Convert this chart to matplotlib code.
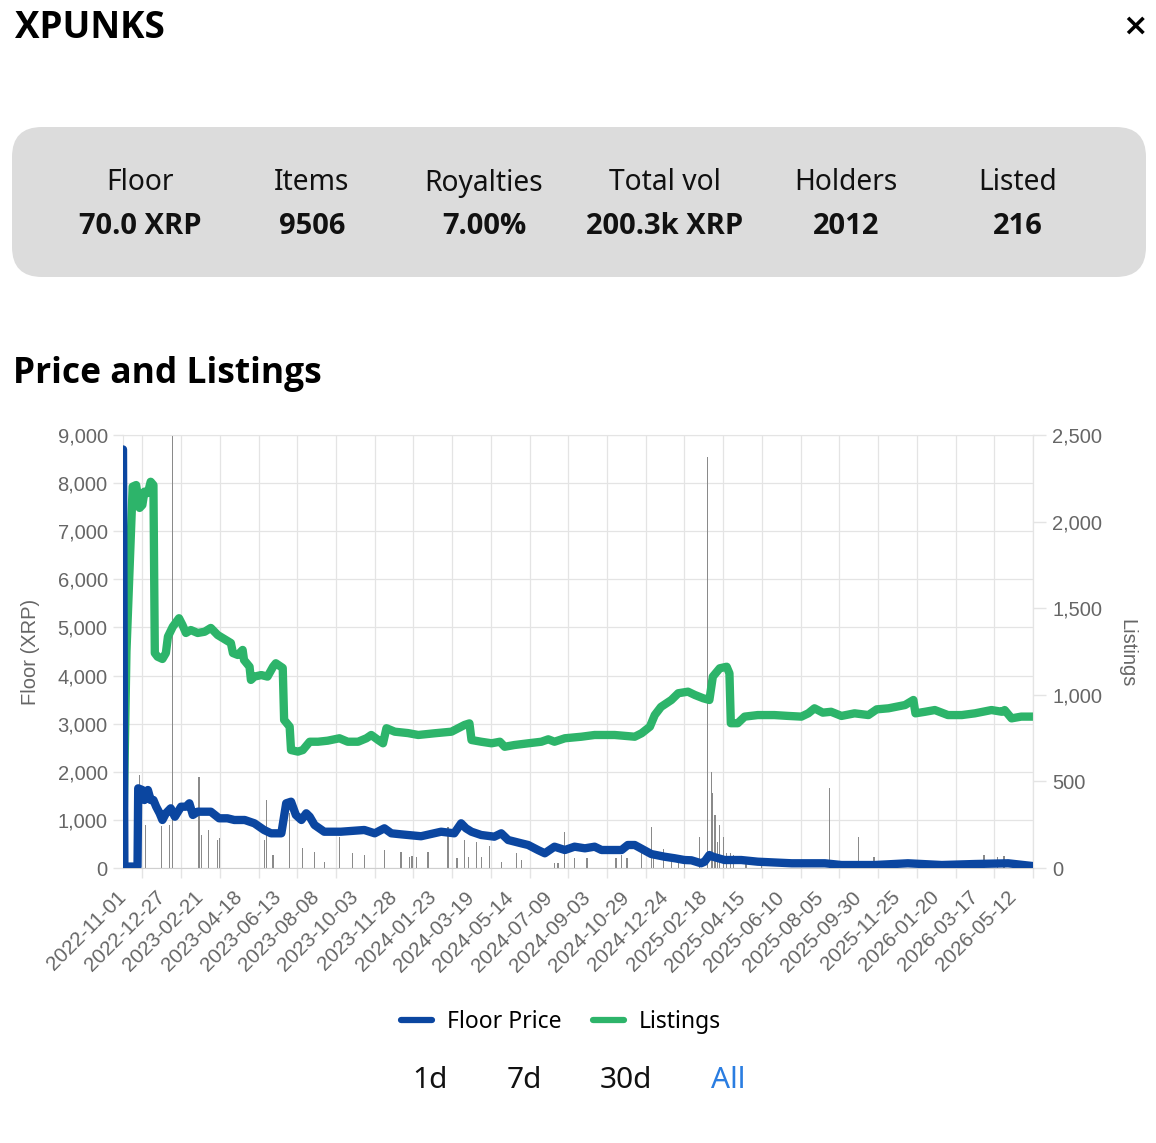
import numpy as np
import matplotlib
matplotlib.use('Agg')
import matplotlib.pyplot as plt
from matplotlib import font_manager
from matplotlib.patches import FancyBboxPatch
from matplotlib.lines import Line2D
from matplotlib.ticker import FuncFormatter

# ---- data ----
start = np.datetime64('2022-11-01')

# listings (right axis), days since start
listing_days = [0, 5, 14, 19, 24, 28, 31, 36, 40, 44, 46, 50, 57, 62, 65, 72, 81, 86, 91, 98,
                108, 118, 127, 137, 149, 156, 159, 166, 173, 175, 183, 185, 190, 200, 209, 217,
                221, 231, 233, 241, 243, 253, 260, 270, 282, 296, 313, 325, 340, 352, 359, 369,
                376, 381, 393, 412, 427, 451, 475, 494, 501, 504, 518, 533, 545, 552, 566, 586,
                605, 615, 624, 639, 663, 682, 711, 740, 750, 762, 769, 778, 793, 803, 817, 827,
                839, 848, 853, 863, 873, 877, 879, 889, 899, 918, 942, 962, 981, 991, 1000, 1012,
                1024, 1039, 1058, 1078, 1090, 1107, 1131, 1143, 1146, 1160, 1174, 1193, 1213,
                1232, 1256, 1271, 1275, 1285, 1299, 1316]
listing_vals = [60, 1250, 2202, 2211, 2079, 2096, 2173, 2165, 2230, 2211, 1241, 1220, 1207, 1241,
                1336, 1393, 1442, 1403, 1357, 1374, 1357, 1364, 1386, 1345, 1316, 1299, 1241, 1230,
                1259, 1201, 1162, 1086, 1105, 1114, 1105, 1162, 1182, 1155, 855, 816, 681, 672,
                681, 729, 729, 735, 749, 729, 729, 749, 768, 739, 720, 807, 787, 779, 768, 778,
                787, 826, 835, 739, 729, 720, 729, 700, 710, 720, 729, 743, 729, 749, 758, 768,
                768, 758, 778, 816, 883, 930, 970, 1009, 1018, 999, 980, 970, 1105, 1153, 1162,
                1124, 836, 836, 874, 883, 883, 878, 874, 893, 922, 897, 902, 878, 893, 883, 916,
                922, 941, 970, 893, 902, 912, 883, 883, 893, 912, 902, 912, 864, 874, 874]

# floor price (left axis, XRP)
floor_days = [0, 2, 21, 22, 28, 31, 36, 40, 44, 48, 53, 57, 62, 69, 75, 84, 91, 96, 101, 108,
              127, 139, 151, 161, 176, 190, 204, 214, 229, 236, 243, 250, 258, 265, 270, 277,
              291, 315, 349, 364, 378, 388, 402, 431, 460, 479, 489, 496, 504, 518, 537, 547,
              557, 576, 586, 600, 610, 624, 639, 653, 668, 682, 692, 706, 721, 730, 740, 750,
              764, 783, 798, 812, 822, 836, 841, 848, 853, 870, 894, 918, 967, 1015, 1039, 1087,
              1135, 1184, 1232, 1280, 1316]
floor_vals = [8700, 30, 30, 1656, 1621, 1413, 1621, 1413, 1413, 1274, 1137, 998, 1137, 1241, 1066,
              1274, 1274, 1345, 1102, 1170, 1170, 1033, 1033, 998, 998, 929, 790, 721, 721, 1345,
              1378, 1102, 998, 1137, 1066, 894, 754, 754, 790, 721, 825, 721, 700, 660, 754, 721,
              929, 825, 754, 686, 651, 721, 582, 513, 478, 374, 306, 443, 374, 443, 409, 443, 374,
              374, 374, 478, 478, 400, 290, 235, 202, 166, 160, 98, 131, 270, 235, 166, 166, 131,
              98, 98, 62, 62, 98, 62, 83, 98, 40]

# daily volume (hidden axis)
vol_days = [24, 33, 56, 67, 72, 110, 113, 124, 137, 140, 205, 208, 217, 241, 260, 277, 291, 313,
            332, 349, 378, 402, 414, 418, 424, 441, 470, 483, 494, 500, 511, 518, 530, 547, 569,
            576, 624, 629, 639, 653, 671, 713, 721, 729, 750, 764, 767, 782, 793, 803, 812, 834,
            845, 851, 853, 856, 860, 863, 868, 873, 878, 883, 901, 923, 1022, 1064, 1086, 1245,
            1265, 1274]
vol_vals = [8600, 4000, 3840, 4000, 40000, 8400, 3040, 3520, 2600, 2800, 2600, 6280, 1200, 5080,
            1840, 1520, 600, 2880, 1360, 1200, 1680, 1520, 1040, 1100, 1040, 1520, 3800, 920, 2600,
            1040, 2400, 1040, 2000, 600, 1360, 720, 480, 480, 3360, 880, 920, 920, 1200, 920, 2000,
            3800, 1600, 1800, 600, 600, 600, 2880, 38000, 8880, 6920, 4880, 2400, 4000, 2880, 1400,
            1400, 1200, 480, 480, 7360, 2880, 1040, 1200, 1040, 1120]
vol_axis_max = 40000

stat_names = ['Floor', 'Items', 'Royalties', 'Total vol', 'Holders', 'Listed']
stat_values = ['70.0 XRP', '9506', '7.00%', '200.3k XRP', '2012', '216']
range_buttons = ['1d', '7d', '30d', 'All']

floor_max = 9000
listing_max = 2500
label_step = 56  # days between x labels


def family_with_bold(candidates):
    names = {}
    for f in font_manager.fontManager.ttflist:
        w = f.weight if isinstance(f.weight, int) else 400
        if f.weight in ('bold', 'heavy', 'extra bold', 'semibold', 'demibold'):
            w = 700
        names.setdefault(f.name, set()).add(w)
    for c in candidates:
        if c in names and max(names[c]) >= 600:
            return c
    return 'DejaVu Sans'


# ---- figure ----
W, H = 1156, 1143
fig = plt.figure(figsize=(W / 100, H / 100), dpi=100)
ui_font = 'Noto Sans'
bold_font = family_with_bold(['Noto Sans', 'Open Sans', 'Lato', 'Roboto', 'Inter',
                              'Liberation Sans'])
axis_font = 'Liberation Sans'
grey_txt = '#666666'
grid_c = '#e4e4e4'
blue = '#0b46a0'
green = '#2db46a'


def fx(x):
    return x / W


def fy(y):
    return 1 - y / H


# header
fig.text(fx(15), fy(28), 'XPUNKS', fontsize=26.5, fontweight='bold', family=bold_font,
         ha='left', va='center')
fig.text(fx(1135), fy(26), '\u00d7', fontsize=22, fontweight='bold', family='DejaVu Sans',
         ha='center', va='center')

box = FancyBboxPatch((12 / 100, (H - 277) / 100), 1134 / 100, 150 / 100,
                     boxstyle='round,pad=0,rounding_size=0.3', transform=fig.dpi_scale_trans,
                     facecolor='#dcdcdc', edgecolor='none')
fig.patches.append(box)

stat_x = [140, 312, 484, 665, 846, 1018]
for xc, name, val in zip(stat_x, stat_names, stat_values):
    fig.text(fx(xc), fy(183), name, fontsize=20.3, family=ui_font, color='#111111',
             ha='center', va='center')
    fig.text(fx(xc), fy(227), val, fontsize=21, fontweight='bold', family=bold_font,
             color='#111111', ha='center', va='center')

fig.text(fx(13), fy(374), 'Price and Listings', fontsize=25.5, fontweight='bold', family=bold_font,
         ha='left', va='center')

# ---- chart ----
ax = fig.add_axes([fx(123), 275 / H, 910 / W, 433 / H])

f_dates = start + np.array(floor_days).astype('timedelta64[D]')
l_dates = start + np.array(listing_days).astype('timedelta64[D]')
v_dates = start + np.array(vol_days).astype('timedelta64[D]')

vol_scale = floor_max / vol_axis_max
ax.bar(v_dates, np.array(vol_vals) * vol_scale, width=1.8, color='#8a8a8a', linewidth=0, zorder=1)
list_scale = floor_max / listing_max
ax.plot(l_dates, np.array(listing_vals) * list_scale, color=green, lw=6,
        solid_joinstyle='round', solid_capstyle='round', zorder=2)
ax.plot(f_dates, floor_vals, color=blue, lw=6, solid_joinstyle='round',
        solid_capstyle='round', zorder=3)

end_day = 1316
ax.set_xlim(start, start + np.timedelta64(end_day, 'D'))
ax.set_ylim(0, floor_max)

# x ticks: labels at category dates, grid lines between
label_dates = [start + np.timedelta64(label_step * k, 'D') for k in range(24)]
grid_dates = [start + np.timedelta64(label_step // 2 + label_step * k, 'D') for k in range(24)]
ax.set_xticks(label_dates)
ax.set_xticklabels([str(d) for d in label_dates])
ax.set_xticks(grid_dates, minor=True)
ax.tick_params(axis='x', which='major', length=0, pad=19, labelsize=14.8, labelcolor=grey_txt)
ax.tick_params(axis='x', which='minor', length=7, color=grid_c, width=1)
for lab in ax.get_xticklabels():
    lab.set_rotation(45)
    lab.set_ha('right')
    lab.set_va('center')
    lab.set_rotation_mode('anchor')
    lab.set_family(axis_font)
ax.grid(True, which='minor', axis='x', color=grid_c, lw=0.9, zorder=0)

ax.set_yticks(np.arange(0, floor_max + 1, 1000))
ax.yaxis.set_major_formatter(FuncFormatter(lambda v, p: f'{v:,.0f}'))
ax.tick_params(axis='y', length=7, color=grid_c, width=1, pad=4, labelsize=14.5,
               labelcolor=grey_txt)
for lab in ax.get_yticklabels():
    lab.set_family(axis_font)
ax.grid(True, which='major', axis='y', color=grid_c, lw=0.9, zorder=0)
ax.set_axisbelow(True)

for side in ['left', 'right', 'top']:
    ax.spines[side].set_color(grid_c)
ax.spines['bottom'].set_color('#cfcfcf')

sec = ax.secondary_yaxis('right', functions=(lambda v: v / list_scale, lambda v: v * list_scale))
sec.set_yticks(np.arange(0, listing_max + 1, 500))
sec.yaxis.set_major_formatter(FuncFormatter(lambda v, p: f'{v:,.0f}'))
sec.tick_params(axis='y', length=9, color=grid_c, width=1, pad=5, labelsize=14.5,
                labelcolor=grey_txt)
for lab in sec.get_yticklabels():
    lab.set_family(axis_font)
sec.spines['right'].set_color(grid_c)

fig.text(fx(30), fy(652), 'Floor (XRP)', rotation=90, fontsize=14.5, family=axis_font,
         color=grey_txt, ha='center', va='center')
fig.text(fx(1127), fy(653), 'Listings', rotation=270, fontsize=14.5, family=axis_font,
         color=grey_txt, ha='center', va='center')

# legend
handles = [Line2D([], [], color=blue, lw=4.5, solid_capstyle='round'),
           Line2D([], [], color=green, lw=4.5, solid_capstyle='round')]
fig.legend(handles, ['Floor Price', 'Listings'], loc='center', bbox_to_anchor=(fx(561), fy(1022)),
           ncol=2, frameon=False, prop={'family': ui_font, 'size': 16.5}, handlelength=1.35,
           handletextpad=0.65, columnspacing=1.4)

btn_x = [430, 524, 626, 728]
for xc, b in zip(btn_x, range_buttons):
    fig.text(fx(xc), fy(1080), b, fontsize=21.5, family=ui_font,
             color='#2a7de1' if b == 'All' else '#111111', ha='center', va='center')

fig.savefig('out.png', dpi=100)
